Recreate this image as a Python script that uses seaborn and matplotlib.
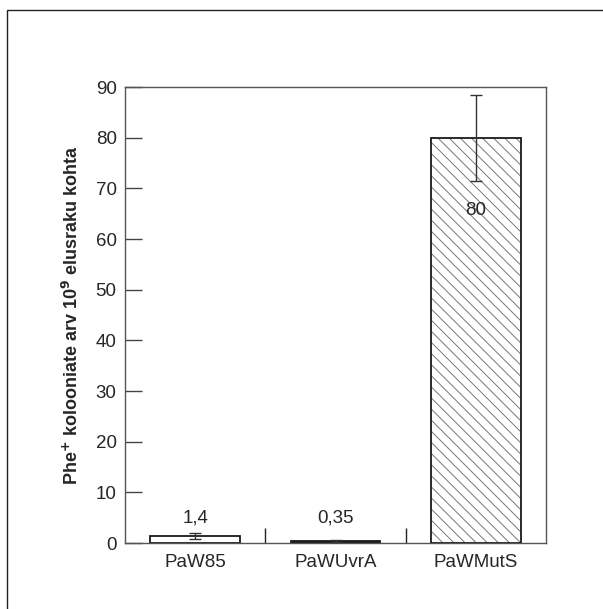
import matplotlib
matplotlib.use("Agg")
import matplotlib.pyplot as plt
import seaborn as sns
import pandas as pd
from matplotlib.patches import Rectangle

strains = ['PaW85', 'PaWUvrA', 'PaWMutS']
values = [1.4, 0.35, 80]
errors = [0.6, 0.2, 8.5]
value_labels = ['1,4', '0,35', '80']
label_y = [4.9, 4.9, 65.7]

sns.set_style('white')
plt.rcParams['font.family'] = ['Liberation Sans', 'DejaVu Sans']
plt.rcParams['hatch.linewidth'] = 0.7

df = pd.DataFrame({'strain': strains, 'value': values})

fig = plt.figure(figsize=(6.03, 6.09), dpi=100)
# outer frame (only top/left visible in the original)
fig.patches.append(Rectangle((7 / 603, -0.1), 1.2, 1 - 10 / 609 + 0.1,
                             transform=fig.transFigure, fill=False,
                             edgecolor='#222222', linewidth=1.0))

ax = fig.add_axes([125 / 603, 1 - 543 / 609, 421 / 603, 456 / 609])

sns.barplot(data=df, x='strain', y='value', hue='strain', legend=False,
            palette=['white', '#1a1a1a', 'white'], width=0.64,
            edgecolor='#1a1a1a', linewidth=1.3, ax=ax)

# hatched bar: grey hatch, black outline drawn on top
hb = ax.patches[2]
hb.set_hatch('\\\\\\')
hb.set_edgecolor('#777777')
hb.set_linewidth(0)
ax.add_patch(Rectangle(hb.get_xy(), hb.get_width(), hb.get_height(),
                       fill=False, edgecolor='#1a1a1a', linewidth=1.3, zorder=hb.get_zorder() + 0.1))

ax.errorbar(range(len(strains)), values, yerr=errors, fmt='none',
            ecolor='#333333', elinewidth=1.0, capsize=4.5, capthick=1.0, zorder=5)

for i, lab in enumerate(value_labels):
    ax.text(i, label_y[i], lab, ha='center', va='center', fontsize=13.5, zorder=6)

ax.set_ylim(0, 90)
ax.set_xlim(-0.5, 2.5)
ax.set_yticks(range(0, 91, 10))
ax.tick_params(axis='y', left=True, direction='in', length=12, width=1, color='#444444',
               labelsize=13.5, pad=6)
ax.tick_params(axis='x', which='major', bottom=True, length=0, labelsize=13.5, pad=8)
ax.set_xticks([0.5, 1.5], minor=True)
ax.tick_params(axis='x', which='minor', bottom=True, direction='in', length=11, width=1,
               color='#222222')
ax.set_xlabel('')
ax.set_ylabel('Phe$^{\\mathbf{+}}$ kolooniate arv 10$^{\\mathbf{9}}$ elusraku kohta',
              fontsize=13, fontweight='bold', labelpad=10)

for side in ['left', 'bottom', 'right', 'top']:
    ax.spines[side].set_color('#555555')
    ax.spines[side].set_linewidth(1.0)

fig.savefig('out.png', dpi=100)
